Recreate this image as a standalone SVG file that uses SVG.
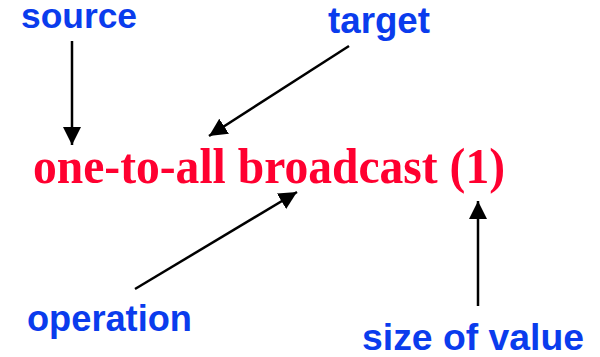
<svg xmlns="http://www.w3.org/2000/svg" width="600" height="357" viewBox="0 0 600 357">
<style>
.lbl{font-family:"Liberation Sans",Arial,sans-serif;font-weight:bold;fill:#0a3ced}
.main{font-family:"Liberation Serif","Times New Roman",serif;font-weight:bold;fill:#ff0030}
.conn line{stroke:#000;stroke-width:2.5;marker-end:url(#ah)}
</style>
<defs>
<marker id="ah" markerUnits="userSpaceOnUse" markerWidth="18" markerHeight="18" refX="16" refY="8" orient="auto" viewBox="0 0 16 16">
<path d="M0,0 L16,8 L0,16 Z" fill="#000"/>
</marker>
</defs>
<rect width="600" height="357" fill="#fff"/>
<g id="main"><text class="main" x="33" y="183" font-size="51" textLength="472" lengthAdjust="spacingAndGlyphs">one-to-all broadcast (1)</text></g>
<g id="source"><text class="lbl" x="21" y="28" font-size="35" textLength="116" lengthAdjust="spacingAndGlyphs">source</text></g>
<g id="target"><text class="lbl" x="328" y="33" font-size="36" textLength="102" lengthAdjust="spacingAndGlyphs">target</text></g>
<g id="operation"><text class="lbl" x="27" y="331" font-size="36" textLength="165" lengthAdjust="spacingAndGlyphs">operation</text></g>
<g id="size"><text class="lbl" x="362" y="350" font-size="37" textLength="222" lengthAdjust="spacingAndGlyphs">size of value</text></g>
<g id="connectors" class="conn">
<line x1="72" y1="41" x2="72" y2="145"/>
<line x1="349" y1="46" x2="209" y2="136"/>
<line x1="135" y1="289" x2="297" y2="192"/>
<line x1="478" y1="306" x2="478" y2="201"/>
</g>
</svg>
